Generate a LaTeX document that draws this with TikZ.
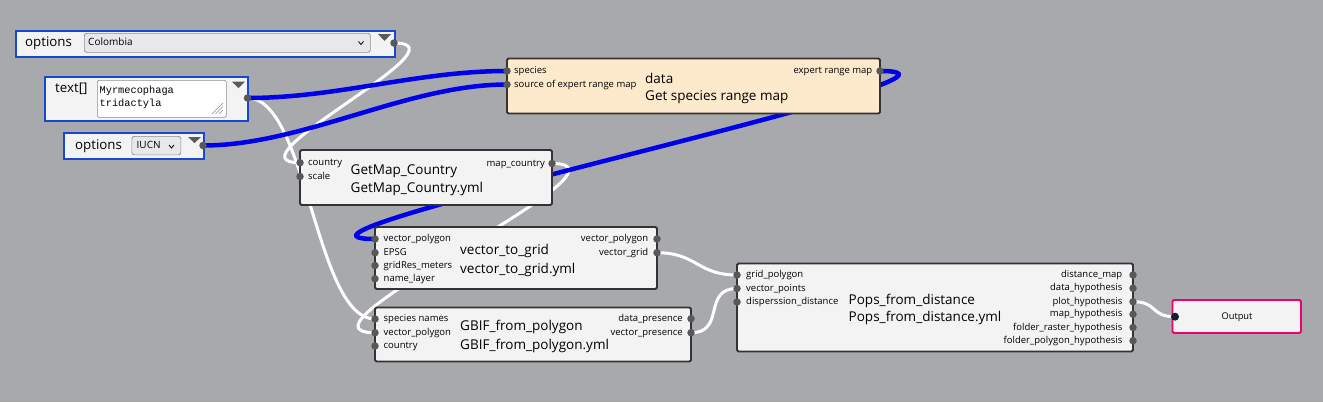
\documentclass[tikz,border=0pt]{standalone}
\usepackage{fontspec}
\setmainfont{Open Sans}
\newfontfamily\monof{Liberation Mono}
\pgfdeclarelayer{back}
\pgfdeclarelayer{wires}
\pgfsetlayers{back,wires,main}
\definecolor{bgc}{RGB}{168,169,173}
\definecolor{nodef}{RGB}{243,243,243}
\definecolor{dataf}{RGB}{253,234,205}
\definecolor{boxc}{RGB}{51,51,51}
\definecolor{widb}{RGB}{22,72,210}
\definecolor{combof}{RGB}{232,232,236}
\definecolor{combob}{RGB}{140,140,145}
\definecolor{portc}{RGB}{88,88,88}
\definecolor{wireb}{RGB}{0,0,235}
\definecolor{outb}{RGB}{238,0,110}
\definecolor{outp}{RGB}{28,28,48}
\definecolor{tric}{RGB}{90,90,90}
\begin{document}
\begin{tikzpicture}[x=1pt,y=-1pt,
  box/.style={draw=boxc,line width=1.8pt,fill=nodef,rounded corners=1.5pt,anchor=north west,inner sep=0pt,outer sep=0pt},
  wid/.style={draw=widb,line width=1.8pt,fill=nodef,anchor=north west,inner sep=0pt},
  combo/.style={draw=combob,line width=0.7pt,fill=combof,rounded corners=2.5pt,anchor=north west,inner sep=0pt},
  port/.style={circle,fill=portc,inner sep=0pt,minimum size=7.5pt},
  lbl/.style={font=\fontsize{9.5}{10}\selectfont,inner sep=0pt,anchor=mid west},
  rlbl/.style={font=\fontsize{9.5}{10}\selectfont,inner sep=0pt,anchor=mid east},
  ttl/.style={font=\fontsize{13.5}{15}\selectfont,inner sep=0pt,anchor=mid west,yshift=-1.5pt},
  wlbl/.style={font=\fontsize{13.3}{15}\selectfont,inner sep=0pt,anchor=mid west,yshift=-1pt},
  ctext/.style={font=\fontsize{10}{12}\selectfont,inner sep=0pt,anchor=mid west},
  mono/.style={font=\monof\fontsize{10.3}{12}\selectfont,inner sep=0pt,anchor=base west},
  tri/.style={fill=tric},
  chev/.style={draw=black,line width=0.8pt},
  wire/.style={draw=white,line width=3pt},
  bwire/.style={draw=wireb,line width=4.5pt},
]
\begin{pgfonlayer}{back}
\fill[bgc] (0,0) rectangle (1323,402);
\end{pgfonlayer}
\useasboundingbox (0,0) rectangle (1323,402);

% ---- widget: options Colombia
\node[wid,minimum width=379pt,minimum height=26pt] (wcol) at (15,30) {};
\node[wlbl] (wcol-l) at (25,43) {options};
\node[combo,minimum width=286pt,minimum height=19pt] (wcol-c) at (84,33) {};
\node[ctext] (wcol-t) at (88,43) {Colombia};
\draw[chev] (358.5,41.5) -- (361,44.5) -- (363.5,41.5);
\fill[tri] (378,34) -- (391,34) -- (384.5,41) -- cycle;
\node[port] (col-out) at (394,43) {};

% ---- widget: text[]
\node[wid,minimum width=203pt,minimum height=44pt] (wtxt) at (44,76) {};
\node[wlbl] (wtxt-l) at (55,89) {text[]};
\node[draw=combob,fill=white,line width=0.7pt,rounded corners=1.5pt,anchor=north west,minimum width=129pt,minimum height=37pt,inner sep=0pt] (wtxt-a) at (97,80) {};
\node[mono] (wtxt-1) at (99.5,93.5) {Myrmecophaga};
\node[mono] (wtxt-2) at (99.5,106.8) {tridactyla};
\draw[combob,line width=0.6pt] (212,114) -- (223,103) (215.5,114) -- (223,106.5) (219,114) -- (223,110);
\fill[tri] (232,81.5) -- (245,81.5) -- (238.5,88) -- cycle;
\node[port] (txt-out) at (247.5,98) {};

% ---- widget: options IUCN
\node[wid,minimum width=140pt,minimum height=26pt] (wiu) at (63,132) {};
\node[wlbl] (wiu-l) at (75,146) {options};
\node[combo,minimum width=49pt,minimum height=18.5pt] (wiu-c) at (131.5,136) {};
\node[ctext] (wiu-t) at (136.5,146) {IUCN};
\draw[chev] (169,145) -- (171.5,148) -- (174,145);
\fill[tri] (188,137) -- (201,137) -- (194.5,143) -- cycle;
\node[port] (iu-out) at (203,145.5) {};

% ---- data: Get species range map
\node[box,fill=dataf,minimum width=373pt,minimum height=55pt] (data) at (507,58.5) {};
\node[lbl] (data-l1) at (514,71) {species};
\node[lbl] (data-l2) at (514,84.5) {source of expert range map};
\node[ttl] (data-t1) at (645,79) {data};
\node[ttl] (data-t2) at (645,96.5) {Get species range map};
\node[rlbl] (data-r1) at (872.5,71) {expert range map};
\node[port] (data-in1) at (507,71) {};
\node[port] (data-in2) at (507,84.5) {};
\node[port] (data-out) at (880,71) {};

% ---- GetMap_Country
\node[box,minimum width=252pt,minimum height=55pt] (gm) at (300,150) {};
\node[lbl] (gm-l1) at (308,162.7) {country};
\node[lbl] (gm-l2) at (308,176.5) {scale};
\node[ttl] (gm-t1) at (350.5,170.5) {GetMap\_Country};
\node[ttl] (gm-t2) at (350.5,188.5) {GetMap\_Country.yml};
\node[rlbl] (gm-r1) at (545,163.5) {map\_country};
\node[port] (gm-in1) at (300,162.7) {};
\node[port] (gm-in2) at (300,176.5) {};
\node[port] (gm-out) at (552,163.5) {};

% ---- vector_to_grid
\node[box,minimum width=282pt,minimum height=62pt] (vg) at (375,227) {};
\node[lbl] (vg-l1) at (383.5,239) {vector\_polygon};
\node[lbl] (vg-l2) at (383.5,252.7) {EPSG};
\node[lbl] (vg-l3) at (383.5,265.5) {gridRes\_meters};
\node[lbl] (vg-l4) at (383.5,278.7) {name\_layer};
\node[ttl] (vg-t1) at (460,250.7) {vector\_to\_grid};
\node[ttl] (vg-t2) at (460,269) {vector\_to\_grid.yml};
\node[rlbl] (vg-r1) at (648.5,239) {vector\_polygon};
\node[rlbl] (vg-r2) at (648.5,252.7) {vector\_grid};
\node[port] (vg-in1) at (375,239) {};
\node[port] (vg-in2) at (375,252.7) {};
\node[port] (vg-in3) at (375,265.5) {};
\node[port] (vg-in4) at (375,278.7) {};
\node[port] (vg-out1) at (657,239) {};
\node[port] (vg-out2) at (657,252.7) {};

% ---- GBIF_from_polygon
\node[box,minimum width=316pt,minimum height=54pt] (gb) at (375,307.5) {};
\node[lbl] (gb-l1) at (383.5,319) {species names};
\node[lbl] (gb-l2) at (383.5,332.7) {vector\_polygon};
\node[lbl] (gb-l3) at (383.5,346) {country};
\node[ttl] (gb-t1) at (460,326.7) {GBIF\_from\_polygon};
\node[ttl] (gb-t2) at (460,345) {GBIF\_from\_polygon.yml};
\node[rlbl] (gb-r1) at (683,318.7) {data\_presence};
\node[rlbl] (gb-r2) at (683,332.7) {vector\_presence};
\node[port] (gb-in1) at (375,319) {};
\node[port] (gb-in2) at (375,332.7) {};
\node[port] (gb-in3) at (375,346) {};
\node[port] (gb-out1) at (691,318.7) {};
\node[port] (gb-out2) at (691,332.7) {};

% ---- Pops_from_distance
\node[box,minimum width=396pt,minimum height=88pt] (pp) at (737,263.5) {};
\node[lbl] (pp-l1) at (746,275) {grid\_polygon};
\node[lbl] (pp-l2) at (746,288.5) {vector\_points};
\node[lbl] (pp-l3) at (746,302) {disperssion\_distance};
\node[ttl] (pp-t1) at (848.5,300) {Pops\_from\_distance};
\node[ttl] (pp-t2) at (848.5,317.5) {Pops\_from\_distance.yml};
\node[rlbl] (pp-r1) at (1122.5,275) {distance\_map};
\node[rlbl] (pp-r2) at (1122.5,288.3) {data\_hypothesis};
\node[rlbl] (pp-r3) at (1122.5,301.7) {plot\_hypothesis};
\node[rlbl] (pp-r4) at (1122.5,314.3) {map\_hypothesis};
\node[rlbl] (pp-r5) at (1122.5,327.5) {folder\_raster\_hypothesis};
\node[rlbl] (pp-r6) at (1122.5,340.7) {folder\_polygon\_hypothesis};
\node[port] (pp-in1) at (737,275) {};
\node[port] (pp-in2) at (737,288.5) {};
\node[port] (pp-in3) at (737,302) {};
\node[port] (pp-out1) at (1133,275) {};
\node[port] (pp-out2) at (1133,288.3) {};
\node[port] (pp-out3) at (1133,301.7) {};
\node[port] (pp-out4) at (1133,314.3) {};
\node[port] (pp-out5) at (1133,327.5) {};
\node[port] (pp-out6) at (1133,340.7) {};

% ---- Output
\node[box,draw=outb,minimum width=128.5pt,minimum height=33pt] (out) at (1172.5,300) {};
\node[font=\fontsize{9.3}{11}\selectfont,inner sep=0pt] (out-t) at (1237,317) {Output};
\node[port,fill=outp,minimum size=8pt] (out-in) at (1175,316.7) {};

% ---- connections
\begin{pgfonlayer}{wires}
\draw[wire] (col-out.center) .. controls +(78,0) and +(-78,0) .. (gm-in1.center);
\draw[wire] (txt-out.center) .. controls +(60,0) and +(-60,0) .. (gb-in1.center);
\draw[wire] (gm-out.center) .. controls +(100,0) and +(-100,0) .. (gb-in2.center);
\draw[wire] (vg-out2.center) .. controls +(40,0) and +(-40,0) .. (pp-in1.center);
\draw[wire] (gb-out2.center) .. controls +(35,0) and +(-35,0) .. (pp-in2.center);
\draw[wire] (pp-out3.center) .. controls +(25,0) and +(-25,0) .. (out-in.center);
\draw[bwire] (txt-out.center) .. controls +(90,0) and +(-90,0) .. (data-in1.center);
\draw[bwire] (iu-out.center) .. controls +(100,0) and +(-100,0) .. (data-in2.center);
\draw[bwire] (data-out.center) .. controls +(150,0) and +(-150,0) .. (vg-in1.center);
\end{pgfonlayer}
\end{tikzpicture}
\end{document}
